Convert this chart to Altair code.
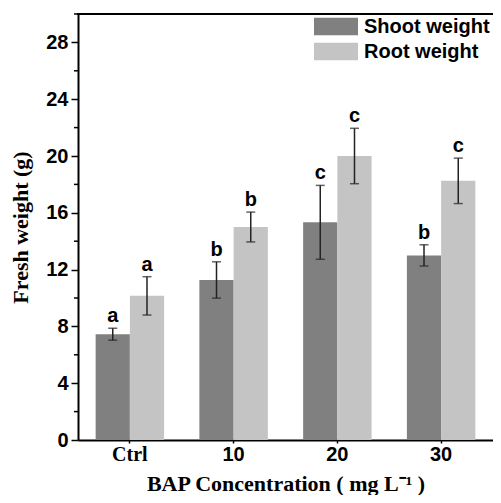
import altair as alt
import pandas as pd

categories = ["Ctrl", "10", "20", "30"]
shoot_mean = [7.45, 11.27, 15.33, 13.0]
shoot_err = [0.42, 1.28, 2.6, 0.75]
root_mean = [10.15, 15.0, 20.0, 18.25]
root_err = [1.35, 1.05, 1.95, 1.6]
shoot_letters = ["a", "b", "c", "b"]
root_letters = ["a", "b", "c", "c"]
series = ["Shoot weight", "Root weight"]
colors = ["#808080", "#c4c4c4"]

rows = []
for i, c in enumerate(categories):
    rows.append(dict(cat=c, s=series[0], mean=shoot_mean[i], lo=shoot_mean[i] - shoot_err[i],
                     hi=shoot_mean[i] + shoot_err[i], letter=shoot_letters[i]))
    rows.append(dict(cat=c, s=series[1], mean=root_mean[i], lo=root_mean[i] - root_err[i],
                     hi=root_mean[i] + root_err[i], letter=root_letters[i]))
df = pd.DataFrame(rows)

W, H = 415, 426

x = alt.X("cat:N", sort=categories,
          scale=alt.Scale(paddingInner=0.34, paddingOuter=0.17),
          axis=alt.Axis(title="BAP Concentration ( mg L\u207b\u00b9 )", labelAngle=0,
                        labelFont={"condition": {"test": "datum.value == 'Ctrl'", "value": "Liberation Serif"},
                                   "value": "Liberation Sans"},
                        labelFontSize=20, labelFontWeight="bold", labelColor="black",
                        labelPadding=1, tickSize=3, tickColor="black", tickWidth=1.5,
                        domainColor="black", domainWidth=2,
                        titleFont="Liberation Serif", titleFontSize=22, titleFontWeight="bold",
                        titleColor="black", titlePadding=9))
xo = alt.XOffset("s:N", sort=series, scale=alt.Scale(paddingInner=0, paddingOuter=0))
y = alt.Y("mean:Q", scale=alt.Scale(domain=[0, 30], nice=False),
          axis=alt.Axis(title="Fresh weight (g)", values=[0, 4, 8, 12, 16, 20, 24, 28],
                        grid=False, labelFont="Liberation Sans", labelFontSize=20,
                        labelFontWeight="bold", labelColor="black", labelPadding=3,
                        tickSize=7, tickColor="black", tickWidth=1.5,
                        domainColor="black", domainWidth=2,
                        titleFont="Liberation Serif", titleFontSize=22, titleFontWeight="bold",
                        titleColor="black", titlePadding=13))

base = alt.Chart(df)

bars = base.mark_bar(width={"band": 1}).encode(
    x=x, xOffset=xo, y=y,
    color=alt.Color("s:N", sort=series, scale=alt.Scale(domain=series, range=colors),
                    legend=alt.Legend(title=None, orient="none", legendX=236, legendY=0,
                                      symbolType="M-1,-0.4L1,-0.4L1,0.4L-1,0.4Z",
                                      symbolSize=1936, symbolStrokeWidth=0, symbolOpacity=1,
                                      labelFont="Liberation Sans", labelFontSize=20,
                                      labelFontWeight="bold", labelColor="black",
                                      labelOffset=6, rowPadding=0, clipHeight=25,
                                      padding=0)),
)

minor = alt.Chart(pd.DataFrame({"v": [2, 6, 10, 14, 18, 22, 26, 30]})).mark_rule(
    color="black", strokeWidth=1.5).encode(
    y=alt.Y("v:Q", scale=alt.Scale(domain=[0, 30], nice=False)),
    x=alt.value(-4), x2=alt.value(0))

err = base.mark_rule(color="#222222", strokeWidth=1.5).encode(
    x=x, xOffset=xo, y="lo:Q", y2="hi:Q")
cap_lo = base.mark_tick(color="#222222", thickness=1.5, size=9, orient="horizontal").encode(
    x=x, xOffset=xo, y="lo:Q")
cap_hi = base.mark_tick(color="#222222", thickness=1.5, size=9, orient="horizontal").encode(
    x=x, xOffset=xo, y="hi:Q")
letters = base.mark_text(font="Liberation Sans", fontSize=20, fontWeight="bold",
                         color="black", baseline="alphabetic", dy=-6).encode(
    x=x, xOffset=xo, y="hi:Q", text="letter:N")

top = alt.Chart(pd.DataFrame({"a": [0]})).mark_rule(color="black", strokeWidth=2).encode(
    x=alt.value(-1), x2=alt.value(W), y=alt.value(0))

chart = alt.layer(bars, err, cap_lo, cap_hi, letters, minor, top).properties(
    width=W, height=H,
    autosize=alt.AutoSizeParams(type="none"),
    padding={"left": 70, "top": 6, "right": 0, "bottom": 55},
).configure_view(stroke=None)

chart.save("out.html", embed_options={"renderer": "svg", "actions": False})
